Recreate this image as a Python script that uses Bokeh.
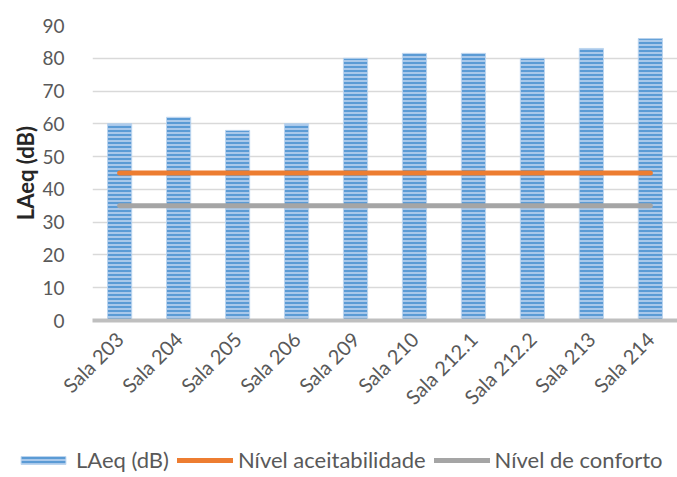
import math
from bokeh.plotting import figure
from bokeh.layouts import column
from bokeh.models import Range1d, Legend, LegendItem, SingleIntervalTicker, ColumnDataSource
from bokeh.embed import file_html
from bokeh.resources import INLINE

salas = ["Sala 203", "Sala 204", "Sala 205", "Sala 206", "Sala 209",
         "Sala 210", "Sala 212.1", "Sala 212.2", "Sala 213", "Sala 214"]
laeq = [60, 62, 58, 60, 80, 81.5, 81.5, 80, 83, 86]
nivel_aceitabilidade = [45] * 10
nivel_conforto = [35] * 10
series_names = ["LAeq (dB)", "Nível aceitabilidade", "Nível de conforto"]

BAR_STYLE = dict(fill_color="#a9c8ea", line_color="#bcd5ef", line_width=1,
                 hatch_pattern="-", hatch_color="#5b9bd5", hatch_scale=4, hatch_weight=2)

src = ColumnDataSource(dict(x=salas, y=laeq, a=nivel_aceitabilidade, c=nivel_conforto))

p = figure(x_range=salas, y_range=Range1d(0, 90), width=677, height=440,
           output_backend="svg", toolbar_location=None,
           min_border_left=92, min_border_right=0, min_border_top=25, min_border_bottom=120)
p.outline_line_color = None
p.background_fill_color = "white"
p.frame_align = False

p.vbar(x="x", top="y", width=0.41, source=src, **BAR_STYLE)
p.line(x="x", y="a", source=src, line_color="#ed7d31", line_width=5, line_cap="round")
p.line(x="x", y="c", source=src, line_color="#a5a5a5", line_width=5, line_cap="round")

p.x_range.range_padding = -0.04
p.x_range.range_padding_units = "absolute"
p.xgrid.grid_line_color = None
p.ygrid.grid_line_color = "#d9d9d9"
p.ygrid.grid_line_width = 1.5
p.yaxis.ticker = SingleIntervalTicker(interval=10)

p.yaxis.axis_line_color = None
p.yaxis.major_tick_line_color = None
p.yaxis.minor_tick_line_color = None
p.yaxis.major_label_text_font = "Lato"
p.yaxis.major_label_text_font_size = "19px"
p.yaxis.major_label_text_color = "#595959"
p.yaxis.major_label_standoff = 22
p.yaxis.axis_label = "LAeq (dB)"
p.yaxis.axis_label_text_font = "Lato"
p.yaxis.axis_label_text_font_style = "bold"
p.yaxis.axis_label_text_font_size = "22px"
p.yaxis.axis_label_text_color = "#262626"
p.yaxis.axis_label_standoff = 0

p.xaxis.axis_line_color = "#bfbfbf"
p.xaxis.axis_line_width = 4
p.xaxis.major_tick_line_color = None
p.xaxis.minor_tick_line_color = None
p.xaxis.major_label_orientation = math.pi / 4
p.xaxis.major_label_text_font = "Lato"
p.xaxis.major_label_text_font_size = "20px"
p.xaxis.major_label_text_color = "#595959"
p.xaxis.major_label_standoff = 9

# legend strip below the chart (same styles as the chart's series)
pl = figure(width=677, height=50, x_range=Range1d(10, 11), y_range=Range1d(10, 11),
            output_backend="svg", toolbar_location=None, x_axis_type=None, y_axis_type=None,
            min_border=0)
pl.frame_align = False
pl.outline_line_color = None
pl.xgrid.grid_line_color = None
pl.ygrid.grid_line_color = None
r_bar = pl.vbar(x=[0], top=[0], width=0.41, **BAR_STYLE)
r_l1 = pl.line(x=[0, 0], y=[0, 0], line_color="#ed7d31", line_width=5, line_cap="round")
r_l2 = pl.line(x=[0, 0], y=[0, 0], line_color="#a5a5a5", line_width=5, line_cap="round")

legend = Legend(items=[
    LegendItem(label=series_names[0], renderers=[r_bar]),
    LegendItem(label=series_names[1], renderers=[r_l1]),
    LegendItem(label=series_names[2], renderers=[r_l2]),
], orientation="horizontal", location=(15, 17),
   label_text_font="Lato", label_text_font_size="22px", label_text_color="#595959",
   glyph_width=56, glyph_height=10, spacing=8, label_standoff=5,
   border_line_color=None, background_fill_alpha=0, margin=0, padding=0)
pl.add_layout(legend, "center")

open("out.html", "w").write(file_html(column(p, pl, spacing=0), INLINE))
